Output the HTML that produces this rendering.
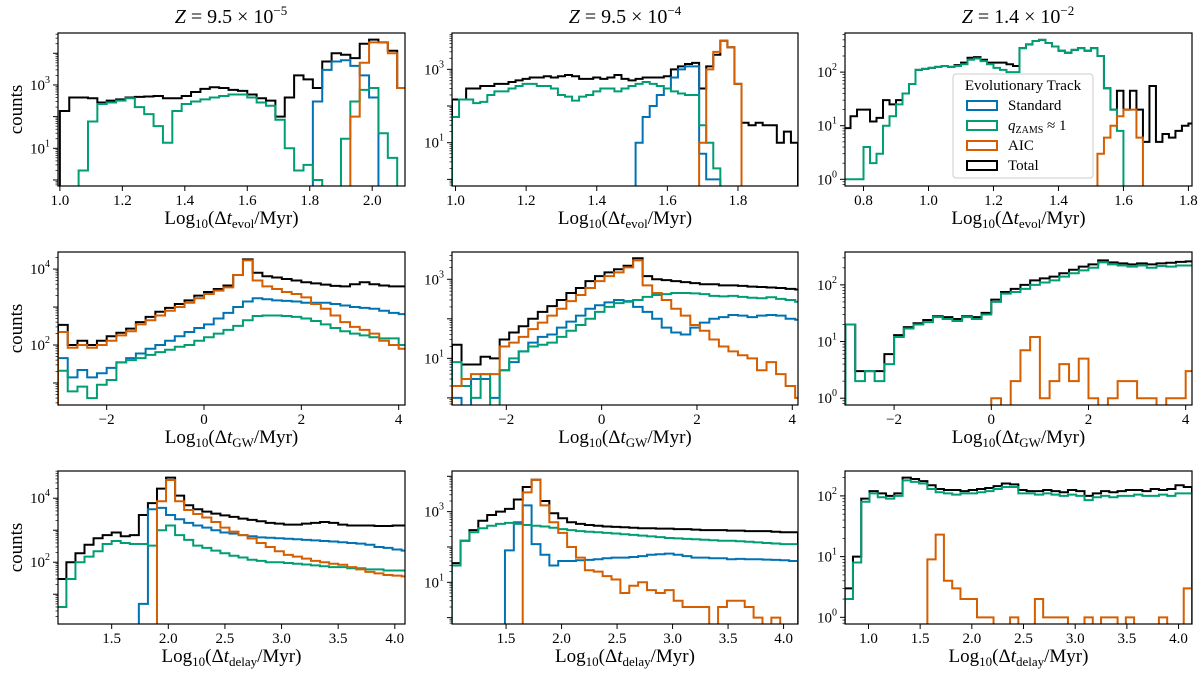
<!DOCTYPE html>
<html><head><meta charset="utf-8"><style>
html,body{margin:0;padding:0;background:#fff;}
svg{display:block;font-family:"Liberation Serif","DejaVu Serif",serif;}
</style></head><body>
<svg id="fig" width="1200" height="677" viewBox="0 0 1200 677" xmlns="http://www.w3.org/2000/svg">
<rect width="1200" height="677" fill="#fff"/>
<g font-size="20" text-anchor="middle">
<text x="231" y="23"><tspan font-style="italic">Z</tspan> = 9.5 × 10<tspan font-size="13" dy="-8">−5</tspan></text>
<text x="625" y="23"><tspan font-style="italic">Z</tspan> = 9.5 × 10<tspan font-size="13" dy="-8">−4</tspan></text>
<text x="1018" y="23"><tspan font-style="italic">Z</tspan> = 1.4 × 10<tspan font-size="13" dy="-8">−2</tspan></text>
</g>
<g id="panels"></g>
<g>
<rect x="953" y="74" width="140" height="104" rx="3" fill="#fff" fill-opacity="0.85" stroke="#ccc" stroke-width="1"/>
<text x="1023" y="90" font-size="15" text-anchor="middle">Evolutionary Track</text>
<g><rect x="967" y="101" width="30" height="9" fill="none" stroke="#0173b2" stroke-width="2"/><text x="1008" y="110" font-size="15">Standard</text></g>
<g><rect x="967" y="121" width="30" height="9" fill="none" stroke="#029e73" stroke-width="2"/><text x="1008" y="130" font-size="15"><tspan font-style="italic">q</tspan><tspan font-size="10" dy="3">ZAMS</tspan><tspan dy="-3"> ≈ 1</tspan></text></g>
<g><rect x="967" y="141" width="30" height="9" fill="none" stroke="#d55e00" stroke-width="2"/><text x="1008" y="150" font-size="15">AIC</text></g>
<g><rect x="967" y="161" width="30" height="9" fill="none" stroke="#000" stroke-width="2"/><text x="1008" y="170" font-size="15">Total</text></g>
</g>
</svg>
<script>
// ---- data: bin start, bin width, counts per series ----
const p11_binStart = 1.0, p11_binWidth = 0.03;
const p11_total = [150,400,400,380,280,320,350,400,420,430,450,380,380,450,600,750,850,800,700,650,500,380,320,100,400,2000,1500,800,5500,10000,9000,7000,20000,27000,22000,12000,800];
const p11_standard = [0,0,0,0,0,0,0,0,0,0,0,0,0,0,0,0,0,0,0,0,0,0,0,0,0,0,0,300,3000,5500,6000,4000,2000,400,0,0,0];
const p11_qzams = [0,0,2,70,250,280,320,380,200,120,50,15,150,250,300,350,400,450,500,500,400,280,220,80,10,2,3,1,0,0,20,300,700,800,30,5,0];
const p11_aic = [0,0,0,0,0,0,0,0,0,0,0,0,0,0,0,0,0,0,0,0,0,0,0,0,0,0,0,0,0,0,0,100,5000,22000,22000,10000,800];

const p12_binStart = 0.99, p12_binWidth = 0.02;
const p12_total = [150,150,300,300,350,350,400,400,450,500,550,600,600,650,600,650,700,650,550,550,600,550,600,700,550,500,550,600,600,600,650,1000,1200,1400,1500,300,1200,2500,6000,4000,400,35,30,35,30,30,10,20,10];
const p12_standard = [0,0,0,0,0,0,0,0,0,0,0,0,0,0,0,0,0,0,0,0,0,0,0,0,0,0,10,50,100,200,300,600,1000,1200,1200,5,1,1,0,0,0,0,0,0,0,0,0,0,0];
const p12_qzams = [50,150,150,120,130,200,250,250,300,350,400,400,350,350,300,200,180,140,180,200,250,300,300,250,300,350,400,450,400,350,300,250,220,200,200,30,10,2,0,0,0,0,0,0,0,0,0,0,0];
const p12_aic = [0,0,0,0,0,0,0,0,0,0,0,0,0,0,0,0,0,0,0,0,0,0,0,0,0,0,0,0,0,0,0,0,0,0,0,10,1000,3000,6000,4000,400,0,0,0,0,0,0,0,0];

const p13_binStart = 0.74, p13_binWidth = 0.02;
const p13_total = [9,15,20,20,12,14,30,25,30,40,60,110,115,120,125,130,125,135,150,185,190,170,150,150,150,140,130,280,330,380,400,350,300,250,230,260,280,250,280,200,50,20,45,20,45,20,5,55,5,7,6,8,10,11];
const p13_standard = [0,0,0,0,0,0,0,0,0,0,0,0,0,0,0,0,0,0,0,0,0,0,0,0,0,0,0,0,0,0,0,0,0,0,0,0,0,0,0,0,0,0,0,0,0,0,0,0,0,0,0,0,0,0];
const p13_qzams = [1,1,1,4,2,3,10,15,25,40,60,110,115,120,125,130,125,130,140,170,180,160,140,120,110,100,100,280,330,380,400,350,300,250,230,260,280,250,280,200,50,20,8,0,0,0,0,0,0,0,0,0,0,0];
const p13_aic = [0,0,0,0,0,0,0,0,0,0,0,0,0,0,0,0,0,0,0,0,0,0,0,0,0,0,0,0,0,0,0,0,0,0,0,0,0,0,0,3,6,10,15,20,20,6,0,0,0,0,0,0,0,0];

const p21_binStart = -3.0, p21_binWidth = 0.2;
const p21_total = [340,100,130,100,130,170,210,270,400,550,750,950,1200,1500,2000,2500,3000,3700,7000,18000,8000,6500,6000,5500,5000,4500,4200,3900,3600,3500,4000,4500,4000,3700,3500,3500];
const p21_standard = [45,14,22,14,18,25,35,45,60,80,100,130,170,220,280,350,500,700,1000,1400,1700,1600,1500,1450,1400,1300,1300,1300,1200,1100,1000,950,900,800,700,650];
const p21_qzams = [21,6,8,4,9,12,35,40,45,55,65,75,90,100,130,160,200,250,320,450,580,600,600,580,550,500,430,350,280,230,200,180,160,150,150,100];
const p21_aic = [220,85,100,85,100,130,180,230,350,450,600,800,1000,1300,1700,2200,2700,3300,7000,17000,5000,3500,3000,2500,2200,1800,1200,900,600,400,300,250,200,130,100,80];

const p22_binStart = -3.14, p22_binWidth = 0.2;
const p22_total = [22,7,7,11,10,30,45,65,100,150,210,300,450,600,900,1200,1500,1800,2200,3400,1200,1000,950,900,850,800,750,750,700,700,680,650,640,620,600,570,550];
const p22_standard = [1,0,3,3,1,5,8,15,25,35,40,60,85,120,180,220,260,300,280,200,150,100,60,45,40,60,80,100,110,125,120,110,120,125,120,100,95];
const p22_qzams = [8,2,1,4,0,5,10,15,20,22,25,35,50,70,100,150,200,250,270,300,360,400,420,450,450,440,420,380,370,380,360,340,330,350,320,300,270];
const p22_aic = [2,3,4,4,4,20,25,35,55,80,120,180,280,400,600,900,1200,1500,2000,3000,700,450,300,180,120,70,50,30,20,15,12,10,5,8,4,2,1];

const p23_binStart = -3.0, p23_binWidth = 0.2;
const p23_total = [20,3,3,3,6,13,18,21,24,28,27,25,28,27,32,55,75,85,100,120,130,140,160,185,210,230,270,250,240,230,240,230,240,245,255,260];
const p23_standard = [0,0,0,0,0,0,0,0,0,0,0,0,0,0,0,0,0,0,0,0,0,0,0,0,0,0,0,0,0,0,0,0,0,0,0,0];
const p23_qzams = [20,2,3,2,4,12,17,20,22,27,25,23,27,25,30,50,70,75,85,100,110,120,140,160,180,200,250,230,220,210,220,200,215,210,220,220];
const p23_aic = [0,0,0,0,0,0,0,0,0,0,0,0,0,0,0,1,0,2,7,12,1,2,4,2,5,1,0,1,2,2,1,1,0,1,1,3];

const p31_binStart = 1.02, p31_binWidth = 0.08;
const p31_total = [30,100,190,350,560,700,850,650,700,3000,7000,20000,44000,12000,6000,4500,3800,3300,2900,2600,2300,2100,1900,1700,1600,1500,1500,1600,1700,1800,1700,1500,1400,1400,1400,1350,1350,1400,1400];
const p31_standard = [0,0,0,0,0,0,0,0,0,5,4500,5000,3000,2200,1700,1400,1200,1000,850,780,700,650,600,580,560,540,520,500,480,460,445,420,400,380,350,300,280,250,230];
const p31_qzams = [4,30,100,150,220,370,460,400,370,370,330,1000,1400,700,500,330,280,230,190,160,140,120,110,100,100,95,90,85,80,75,70,70,65,65,60,60,55,55,55];
const p31_aic = [0,0,0,0,0,0,0,0,0,0,0,8000,37000,8000,4300,3200,2500,1800,1200,900,700,550,400,300,220,170,150,130,110,100,90,83,70,60,50,45,40,38,36];

const p32_binStart = 1.01, p32_binWidth = 0.08;
const p32_total = [35,150,300,550,800,1000,1200,2200,5000,8000,2000,900,650,500,450,420,400,380,370,360,350,340,340,330,330,320,320,310,300,300,300,290,290,280,280,280,270,260,260];
const p32_standard = [0,0,0,0,0,0,80,500,1500,120,60,30,40,40,42,43,45,48,50,50,52,55,60,62,65,60,55,50,50,48,48,45,46,45,45,44,43,42,40];
const p32_qzams = [30,150,260,340,400,450,480,450,420,400,380,350,320,300,280,270,260,250,240,230,220,210,200,190,180,175,170,165,160,155,150,150,145,140,135,130,125,120,120];
const p32_aic = [0,0,0,0,0,0,0,0,3500,8000,1500,500,250,100,50,22,20,15,12,5,8,10,6,5,6,3,2,2,2,0,2,3,3,2,1,0,1,0,0];

const p33_binStart = 0.77, p33_binWidth = 0.08;
const p33_total = [3,10,90,120,110,100,110,200,190,175,150,130,125,125,120,125,130,135,145,160,155,125,120,120,125,120,115,125,120,100,110,120,115,120,125,125,120,130,125,130,150,140];
const p33_standard = [0,0,0,0,0,0,0,0,0,0,0,0,0,0,0,0,0,0,0,0,0,0,0,0,0,0,0,0,0,0,0,0,0,0,0,0,0,0,0,0,0,0];
const p33_qzams = [2,8,80,110,95,90,100,180,170,160,130,115,110,105,110,110,115,120,130,140,140,110,110,105,110,105,100,105,100,85,95,100,95,100,100,105,100,100,105,100,110,110];
const p33_aic = [0,0,0,0,0,0,0,0,0,0,9,23,4,3,2,2,1,1,0,0,1,0,0,2,1,1,1,0,0,1,0,1,1,0,1,0,0,0,1,0,0,3];

// tick labels
const xTicksEvol1 = [1.0,1.2,1.4,1.6,1.8,2.0];
const xTicksEvol2 = [1.0,1.2,1.4,1.6,1.8];
const xTicksEvol3 = [0.8,1.0,1.2,1.4,1.6,1.8];
const xTicksGW = [-2,0,2,4];
const xTicksDelay = [1.5,2.0,2.5,3.0,3.5,4.0];
const xTicksDelay3 = [1.0,1.5,2.0,2.5,3.0,3.5,4.0];

// ---- layout ----
const NS = "http://www.w3.org/2000/svg";
const colors = {total:"#000000", standard:"#0173b2", qzams:"#029e73", aic:"#d55e00"};
const cols = [[58,405],[452,798],[845,1192]];
const rows = [[33,186],[252,405],[471,624]];
const panels = [
 {id:"p11",c:0,r:0,xr:[0.994,2.105],yr:[-0.19,4.64],xt:xTicksEvol1,yl:[1,3],lab:"evol",d:1},
 {id:"p12",c:1,r:0,xr:[0.99,1.97],yr:[-0.18,3.99],xt:xTicksEvol2,yl:[1,3],lab:"evol",d:1},
 {id:"p13",c:2,r:0,xr:[0.743,1.811],yr:[-0.125,2.73],xt:xTicksEvol3,yl:[0,1,2],lab:"evol",d:1},
 {id:"p21",c:0,r:1,xr:[-3.0,4.13],yr:[0.42,4.45],xt:xTicksGW,yl:[2,4],lab:"GW",d:0},
 {id:"p22",c:1,r:1,xr:[-3.14,4.12],yr:[-0.18,3.69],xt:xTicksGW,yl:[1,3],lab:"GW",d:0},
 {id:"p23",c:2,r:1,xr:[-3.01,4.13],yr:[-0.12,2.58],xt:xTicksGW,yl:[0,1,2],lab:"GW",d:0},
 {id:"p31",c:0,r:2,xr:[1.026,4.09],yr:[0.07,4.85],xt:xTicksDelay,yl:[2,4],lab:"delay",d:1},
 {id:"p32",c:1,r:2,xr:[1.013,4.13],yr:[-0.18,4.15],xt:xTicksDelay,yl:[1,3],lab:"delay",d:1},
 {id:"p33",c:2,r:2,xr:[0.773,4.13],yr:[-0.11,2.41],xt:xTicksDelay3,yl:[0,1,2],lab:"delay",d:1}
];
const data = {
 p11:[p11_binStart,p11_binWidth,p11_total,p11_standard,p11_qzams,p11_aic],
 p12:[p12_binStart,p12_binWidth,p12_total,p12_standard,p12_qzams,p12_aic],
 p13:[p13_binStart,p13_binWidth,p13_total,p13_standard,p13_qzams,p13_aic],
 p21:[p21_binStart,p21_binWidth,p21_total,p21_standard,p21_qzams,p21_aic],
 p22:[p22_binStart,p22_binWidth,p22_total,p22_standard,p22_qzams,p22_aic],
 p23:[p23_binStart,p23_binWidth,p23_total,p23_standard,p23_qzams,p23_aic],
 p31:[p31_binStart,p31_binWidth,p31_total,p31_standard,p31_qzams,p31_aic],
 p32:[p32_binStart,p32_binWidth,p32_total,p32_standard,p32_qzams,p32_aic],
 p33:[p33_binStart,p33_binWidth,p33_total,p33_standard,p33_qzams,p33_aic]
};
const root = document.getElementById("panels");
function mk(tag, attrs, parent){const e=document.createElementNS(NS,tag);for(const k in attrs)e.setAttribute(k,attrs[k]);if(parent)parent.appendChild(e);return e;}

panels.forEach(p=>{
  const [x0,x1]=cols[p.c],[y0,y1]=rows[p.r];
  const sx=v=>x0+(v-p.xr[0])/(p.xr[1]-p.xr[0])*(x1-x0);
  const sy=c=>{ if(c<=0) return y1+50; return y1-(Math.log10(c)-p.yr[0])/(p.yr[1]-p.yr[0])*(y1-y0); };
  const g=mk("g",{},root);
  
  
  const cp=mk("clipPath",{id:"clip-"+p.id},g);
  mk("rect",{x:x0,y:y0,width:x1-x0,height:y1-y0},cp);
  const d=data[p.id];
  const start=d[0], w=d[1];
  const names=["total","standard","qzams","aic"];
  const order=[0,1,2,3];
  order.forEach(si=>{
    const vals=d[2+si];
    if(vals.every(v=>v<=0)) return;
    let path="M"+sx(start).toFixed(2)+","+(y1+50);
    vals.forEach((v,i)=>{
      const yy=sy(v).toFixed(2);
      path+=" L"+sx(start+i*w).toFixed(2)+","+yy+" L"+sx(start+(i+1)*w).toFixed(2)+","+yy;
    });
    path+=" L"+sx(start+vals.length*w).toFixed(2)+","+(y1+50);
    const pe=mk("path",{d:path,fill:"none",stroke:colors[names[si]],"stroke-width":2,"stroke-linejoin":"miter","clip-path":"url(#clip-"+p.id+")"},g);
    
    
  });
  const fr=mk("rect",{x:x0,y:y0,width:x1-x0,height:y1-y0,fill:"none",stroke:"#000","stroke-width":1.2},g);
  
  
  // x ticks
  p.xt.forEach(t=>{
    const X=sx(t);
    mk("line",{x1:X,x2:X,y1:y1,y2:y1+5,stroke:"#000","stroke-width":1},g);
    const tx=mk("text",{x:X,y:y1+19,"font-size":15,"text-anchor":"middle"},g);
    tx.textContent=(t<0?"−":"")+Math.abs(t).toFixed(p.d);
    
    
  });
  // y ticks
  for(let dec=Math.floor(p.yr[0]);dec<=Math.ceil(p.yr[1]);dec++){
    for(let k=1;k<=9;k++){
      const lv=dec+Math.log10(k);
      if(lv<p.yr[0]||lv>p.yr[1]) continue;
      const Y=y1-(lv-p.yr[0])/(p.yr[1]-p.yr[0])*(y1-y0);
      mk("line",{x1:x0-(k===1?5:2.5),x2:x0,y1:Y,y2:Y,stroke:"#000","stroke-width":k===1?1:0.7},g);
    }
  }
  p.yl.forEach(e=>{
    const Y=y1-(e-p.yr[0])/(p.yr[1]-p.yr[0])*(y1-y0);
    const tx=mk("text",{x:x0-8,y:Y+5,"font-size":15,"text-anchor":"end"},g);
    
    
    tx.appendChild(document.createTextNode("10"));
    const sp=mk("tspan",{"font-size":10,dy:-7},tx); sp.textContent=String(e);
  });
  // x label
  const lx=mk("text",{x:(x0+x1)/2,y:y1+38,"font-size":19,"text-anchor":"middle"},g);
  
  
  lx.appendChild(document.createTextNode("Log"));
  let s=mk("tspan",{"font-size":13,dy:4},lx); s.textContent="10";
  s=mk("tspan",{dy:-4},lx); s.textContent="(Δ";
  s=mk("tspan",{"font-style":"italic"},lx); s.textContent="t";
  s=mk("tspan",{"font-size":13,dy:4},lx); s.textContent=p.lab;
  s=mk("tspan",{dy:-4},lx); s.textContent="/Myr)";
  if(p.c===0){
    const yl=mk("text",{x:0,y:0,"font-size":19,"text-anchor":"middle",transform:"translate(22,"+((y0+y1)/2)+") rotate(-90)"},g);
    yl.textContent="counts";
    
    
  }
});
</script>
</body></html>
